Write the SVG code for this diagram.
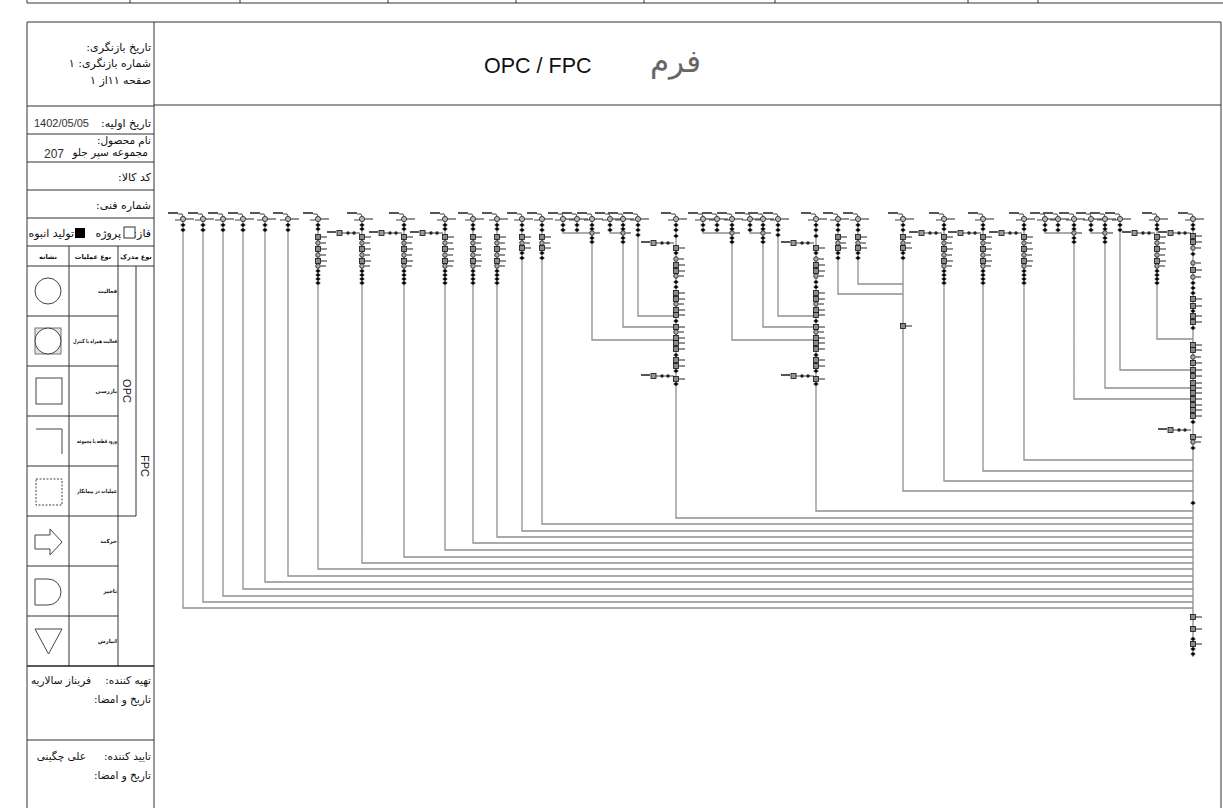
<svg xmlns="http://www.w3.org/2000/svg" width="1223" height="808" viewBox="0 0 1223 808">
<style>
.f{fill:none;stroke:#333;stroke-width:1}
.t{font-family:"DejaVu Sans",sans-serif;fill:#111}
.r{direction:rtl;unicode-bidi:embed}
.ln{fill:none;stroke:#8f8f8f;stroke-width:1.3}
.lb{stroke:#555;stroke-width:2;fill:none}
.lb2{stroke:#555;stroke-width:1.3;fill:none}
.k{stroke:#111;stroke-width:.8;fill:none}
.sym{fill:none;stroke:#444;stroke-width:1}
</style>
<defs>
<g id="hd"><path class="lb" d="M-15,-6h10"/><path class="k" d="M-5,-5h4l1,2"/><path class="k" d="M-8,1h5"/><circle r="2.6" fill="#bbb" stroke="#111" stroke-width=".8"/><path class="lb2" d="M3,0h8"/></g>
<g id="dt"><path class="k" d="M-2.5,0h5"/><circle r="1.8" fill="#000"/></g>
<g id="sq"><rect x="-2.5" y="-2.5" width="5" height="5" fill="#8a8a8a" stroke="#111" stroke-width=".8"/><path class="lb2" d="M3,0h6"/></g>
<g id="ci"><circle r="2.3" fill="#aaa" stroke="#111" stroke-width=".8"/><path class="lb2" d="M3,0h5"/></g>
<g id="fd"><path class="lb" d="M-35,-1h9"/><path class="k" d="M-21,0H-2"/><rect x="-25" y="-2.5" width="5" height="5" fill="#999" stroke="#111" stroke-width=".8"/><circle cx="-14" r="1.7" fill="#222"/><circle cx="-8" r="1.7" fill="#222"/></g>
<g id="cS"><use href="#hd"/><use href="#dt" y="6"/><use href="#dt" y="11"/></g>
<g id="cM"><use href="#hd"/><use href="#dt" y="6"/><use href="#dt" y="11"/><use href="#sq" y="18"/><use href="#ci" y="24"/><use href="#sq" y="29"/><use href="#dt" y="34"/><use href="#dt" y="39"/></g>
<g id="cL"><use href="#hd"/><use href="#dt" y="6"/><use href="#dt" y="10"/><use href="#sq" y="18"/><use href="#ci" y="24"/><use href="#sq" y="30"/><use href="#ci" y="36"/><use href="#sq" y="42"/><use href="#ci" y="47"/><use href="#dt" y="52"/><use href="#dt" y="56"/><use href="#dt" y="60"/><use href="#dt" y="64"/></g>
<g id="cJ"><use href="#hd"/><use href="#dt" y="6"/><use href="#dt" y="10"/><use href="#ci" y="14"/><use href="#dt" y="19"/><use href="#dt" y="23"/></g>
<g id="cX"><use href="#hd"/><use href="#dt" y="6"/><use href="#dt" y="11"/><use href="#dt" y="17"/><use href="#fd" y="24"/>
<use href="#sq" y="29"/><use href="#dt" y="34"/><use href="#ci" y="40"/><use href="#sq" y="46"/><use href="#sq" y="52"/><use href="#ci" y="57"/><use href="#dt" y="63"/><use href="#dt" y="68"/><use href="#sq" y="74"/><use href="#sq" y="80"/><use href="#ci" y="85"/><use href="#sq" y="91"/><use href="#sq" y="96"/><use href="#dt" y="102"/><use href="#sq" y="108"/><use href="#ci" y="113"/><use href="#sq" y="119"/><use href="#sq" y="124"/><use href="#sq" y="130"/><use href="#dt" y="136"/><use href="#sq" y="141"/><use href="#sq" y="147"/><use href="#dt" y="152"/><use href="#fd" y="157"/><use href="#sq" y="160"/><use href="#dt" y="165"/></g>
</defs>

<g id="frame">
<path class="f" d="M27,3H1223M27,0V3M130,0V3M240,0V3M388,0V3M516,0V3M644,0V3M775,0V3M968,0V3M1038,0V3"/>
<path class="f" d="M27,808V22H1221V808M154,22V808M154,105H1221"/>
<path class="f" d="M27,106H154M27,134H154M27,162H154M27,190H154M27,218H154M27,246H154M27,266H154M69,246V666M118,246V666M27,316H118M27,366H118M27,416H118M27,466H118M27,516H136M27,566H118M27,616H118M136,266V516M27,740H154"/>
<path d="M27,666H154" stroke="#222" stroke-width="1.6"/>
</g>

<g id="title">
<text class="t" x="484" y="73" style="font-family:'Liberation Sans',sans-serif;font-size:21.5px">OPC / FPC</text>
<text class="t" x="701" y="72" text-anchor="end" style="font-size:31px;fill:#666">فرم</text>
</g>

<g id="info" class="t r" style="font-size:11px" text-anchor="start">
<text x="151" y="51">تاریخ بازنگری:</text>
<text x="151" y="67">شماره بازنگری: ۱</text>
<text x="151" y="84">صفحه ۱۱از ۱</text>
<text x="151" y="127">تاریخ اولیه:</text>
<text x="151" y="144" style="font-size:10.5px">نام محصول:</text>
<text x="148" y="156" style="font-size:10.5px">مجموعه سپر جلو</text>
<text x="151" y="181">کد کالا:</text>
<text x="151" y="209">شماره فنی:</text>
<text x="151" y="237">فاز:</text>
<text x="121" y="237">پروژه</text>
<text x="74" y="237">تولید انبوه</text>
</g>
<g id="info-numbers" class="t" style="font-family:'Liberation Sans',sans-serif;fill:#333" text-anchor="end">
<text x="89" y="127" style="font-size:11px">1402/05/05</text>
<text x="64" y="158" style="font-size:12px">207</text>
</g>
<rect x="124" y="227" width="11" height="11" fill="#fff" stroke="#333"/>
<rect x="75" y="228" width="10" height="10" fill="#000"/>

<g id="legend-head" class="t" style="font-size:6.5px;font-weight:bold" text-anchor="middle">
<text x="48" y="259">نشانه</text>
<text x="93" y="259">نوع عملیات</text>
<text x="136" y="259">نوع مدرک</text>
</g>
<g id="legend-labels" class="t" style="font-size:5.5px;font-weight:bold" text-anchor="end">
<text x="117" y="293">فعالیت</text>
<text x="117" y="343" textLength="44" lengthAdjust="spacingAndGlyphs">فعالیت همراه با کنترل</text>
<text x="117" y="393">بازرسی</text>
<text x="117" y="443" textLength="40" lengthAdjust="spacingAndGlyphs">ورود قطعه یا مجموعه</text>
<text x="117" y="493" textLength="40" lengthAdjust="spacingAndGlyphs">عملیات در پیمانکار</text>
<text x="117" y="543">حرکت</text>
<text x="117" y="593">تاخیر</text>
<text x="117" y="643">انبارش</text>
</g>
<g id="doc-types" class="t" style="font-family:'Liberation Sans',sans-serif;font-size:11px">
<text transform="translate(123,391) rotate(90)" text-anchor="middle">OPC</text>
<text transform="translate(141,466) rotate(90)" text-anchor="middle">FPC</text>
</g>
<g id="symbols">
<circle class="sym" cx="48" cy="291" r="13"/>
<rect x="35" y="328" width="26" height="26" fill="#e4e4e4" stroke="#777"/><circle cx="48" cy="341" r="13" fill="#fff" stroke="#444"/>
<rect class="sym" x="36" y="378" width="26" height="26"/>
<path class="sym" d="M36,429H62V454"/>
<rect class="sym" x="36" y="479" width="26" height="26" stroke-dasharray="2,1.5"/>
<path class="sym" d="M35,535H50V529L62,542L50,555V549H35Z"/>
<path class="sym" d="M35,579H48A13,13 0 0 1 48,605H35Z"/>
<path class="sym" d="M35,629H62L48.5,654Z"/>
</g>
<g id="signatures" class="t r" style="font-size:10.5px" text-anchor="start">
<text x="151" y="684">تهیه کننده:</text>
<text x="91" y="684">فریناز سالاریه</text>
<text x="151" y="703">تاریخ و امضا:</text>
<text x="151" y="760">تایید کننده:</text>
<text x="86" y="760">علی چگینی</text>
<text x="151" y="779">تاریخ و امضا:</text>
</g>

<g id="connectors" class="ln">
<path d="M183,219V608H1193M203,219V602H1193M223,219V596H1193M243,219V589H1193M265,219V582H1193M288,219V576H1193M318,219V569H1193M362,219V563H1193M404,219V557H1193M445,219V550H1193M473,219V543H1193M497,219V537H1193M522,219V531H1193M542,219V524H1193"/>
<path d="M563,219V233H592M577,219V233M592,219V340H676M610,219V233H623M623,219V327H676M638,219V316H676M676,219V518H1193"/>
<path d="M703,219V233H732M717,219V233M732,219V340H816M750,219V233H763M763,219V327H816M778,219V316H816M816,219V511H1193"/>
<path d="M838,219V294H903M858,219V284H903M903,219V491H1193M944,219V481H1193M983,219V471H1193M1024,219V460H1193"/>
<path d="M1045,219V233H1074M1058,219V233M1074,219V399H1193M1091,219V233H1105M1105,219V388H1193M1120,219V370H1193M1157,219V339H1193M1193,219V657"/>
</g>

<g id="n183"><use href="#cS" x="183" y="219"/></g>
<g id="n203"><use href="#cS" x="203" y="219"/></g>
<g id="n223"><use href="#cS" x="223" y="219"/></g>
<g id="n243"><use href="#cS" x="243" y="219"/></g>
<g id="n265"><use href="#cS" x="265" y="219"/></g>
<g id="n288"><use href="#cS" x="288" y="219"/></g>
<g id="n318"><use href="#cL" x="318" y="219"/></g>
<g id="n362"><use href="#cL" x="362" y="219"/><use href="#fd" x="362" y="233"/></g>
<g id="n404"><use href="#cL" x="404" y="219"/><use href="#fd" x="404" y="233"/></g>
<g id="n445"><use href="#cL" x="445" y="219"/><use href="#fd" x="445" y="233"/></g>
<g id="n473"><use href="#cL" x="473" y="219"/></g>
<g id="n497"><use href="#cL" x="497" y="219"/></g>
<g id="n522"><use href="#cM" x="522" y="219"/></g>
<g id="n542"><use href="#cM" x="542" y="219"/></g>
<g id="n563"><use href="#cS" x="563" y="219"/></g>
<g id="n577"><use href="#cS" x="577" y="219"/></g>
<g id="n592"><use href="#cJ" x="592" y="219"/></g>
<g id="n610"><use href="#cS" x="610" y="219"/></g>
<g id="n623"><use href="#cJ" x="623" y="219"/></g>
<g id="n638"><use href="#cS" x="638" y="219"/><use href="#dt" x="638" y="235"/></g>
<g id="n676"><use href="#cX" x="676" y="219"/></g>
<g id="n703"><use href="#cS" x="703" y="219"/></g>
<g id="n717"><use href="#cS" x="717" y="219"/></g>
<g id="n732"><use href="#cJ" x="732" y="219"/></g>
<g id="n750"><use href="#cS" x="750" y="219"/></g>
<g id="n763"><use href="#cJ" x="763" y="219"/></g>
<g id="n778"><use href="#cS" x="778" y="219"/><use href="#dt" x="778" y="235"/></g>
<g id="n816"><use href="#cX" x="816" y="219"/></g>
<g id="n838"><use href="#cM" x="838" y="219"/></g>
<g id="n858"><use href="#cM" x="858" y="219"/></g>
<g id="n903"><use href="#cM" x="903" y="219"/><use href="#sq" x="903" y="326"/></g>
<g id="n944"><use href="#cL" x="944" y="219"/><use href="#fd" x="944" y="233"/></g>
<g id="n983"><use href="#cL" x="983" y="219"/><use href="#fd" x="983" y="233"/></g>
<g id="n1024"><use href="#cL" x="1024" y="219"/><use href="#fd" x="1024" y="233"/></g>
<g id="n1045"><use href="#cS" x="1045" y="219"/></g>
<g id="n1058"><use href="#cS" x="1058" y="219"/></g>
<g id="n1074"><use href="#cJ" x="1074" y="219"/></g>
<g id="n1091"><use href="#cS" x="1091" y="219"/></g>
<g id="n1105"><use href="#cJ" x="1105" y="219"/></g>
<g id="n1120"><use href="#cS" x="1120" y="219"/></g>
<g id="n1157"><use href="#cL" x="1157" y="219"/><use href="#fd" x="1157" y="233"/></g>
<g id="n1193">
<use href="#hd" x="1193" y="219"/><use href="#fd" x="1193" y="233"/>
<g transform="translate(1193,0)">
<use href="#dt" y="225"/><use href="#dt" y="229"/><use href="#sq" y="236"/><use href="#sq" y="242"/><use href="#ci" y="248"/><use href="#dt" y="254"/><use href="#ci" y="263"/><use href="#sq" y="270"/><use href="#ci" y="277"/><use href="#dt" y="283"/><use href="#dt" y="288"/><use href="#dt" y="293"/><use href="#sq" y="299"/><use href="#sq" y="306"/><use href="#dt" y="311"/><use href="#sq" y="316"/><use href="#sq" y="322"/><use href="#dt" y="328"/><use href="#sq" y="345"/><use href="#sq" y="350"/><use href="#ci" y="357"/><use href="#sq" y="363"/><use href="#sq" y="370"/><use href="#sq" y="376"/><use href="#sq" y="383"/><use href="#sq" y="388"/><use href="#sq" y="393"/><use href="#sq" y="399"/><use href="#sq" y="405"/><use href="#sq" y="410"/><use href="#sq" y="416"/><use href="#dt" y="422"/><use href="#fd" y="430"/><use href="#sq" y="437"/><use href="#ci" y="442"/><use href="#dt" y="448"/><use href="#dt" y="503"/><use href="#sq" y="617"/><use href="#sq" y="629"/><use href="#dt" y="639"/><use href="#sq" y="644"/><use href="#dt" y="649"/><use href="#dt" y="654"/>
</g>
</g>
</svg>
